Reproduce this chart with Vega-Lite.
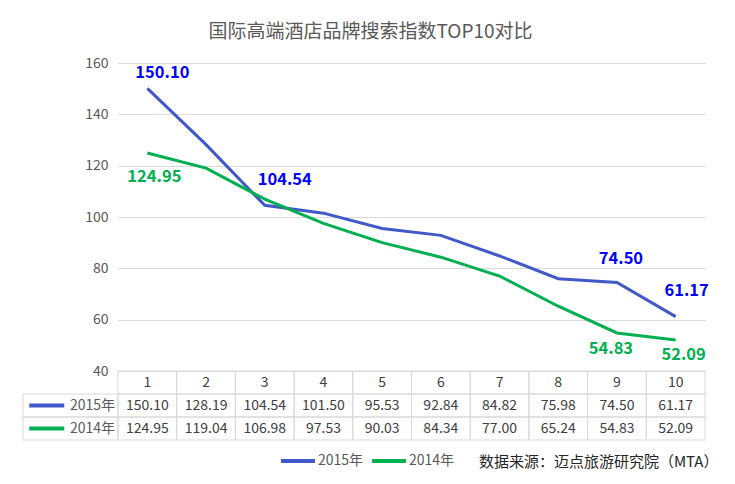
{
  "$schema": "https://vega.github.io/schema/vega-lite/v6.json",
  "background": "white",
  "padding": {"left": 22, "top": 23, "right": 5, "bottom": 5},
  "title": {
    "text": "国际高端酒店品牌搜索指数TOP10对比",
    "fontSize": 19,
    "fontWeight": "normal",
    "color": "#595959",
    "anchor": "middle",
    "offset": 14
  },
  "config": {
    "view": {"stroke": null},
    "font": "Noto Sans CJK SC",
    "title": {"font": "Noto Sans CJK SC"}
  },
  "datasets": {
    "scores": [
      {"cat": 1, "series": "2015年", "value": 150.10},
      {"cat": 2, "series": "2015年", "value": 128.19},
      {"cat": 3, "series": "2015年", "value": 104.54},
      {"cat": 4, "series": "2015年", "value": 101.50},
      {"cat": 5, "series": "2015年", "value": 95.53},
      {"cat": 6, "series": "2015年", "value": 92.84},
      {"cat": 7, "series": "2015年", "value": 84.82},
      {"cat": 8, "series": "2015年", "value": 75.98},
      {"cat": 9, "series": "2015年", "value": 74.50},
      {"cat": 10, "series": "2015年", "value": 61.17},
      {"cat": 1, "series": "2014年", "value": 124.95},
      {"cat": 2, "series": "2014年", "value": 119.04},
      {"cat": 3, "series": "2014年", "value": 106.98},
      {"cat": 4, "series": "2014年", "value": 97.53},
      {"cat": 5, "series": "2014年", "value": 90.03},
      {"cat": 6, "series": "2014年", "value": 84.34},
      {"cat": 7, "series": "2014年", "value": 77.00},
      {"cat": 8, "series": "2014年", "value": 65.24},
      {"cat": 9, "series": "2014年", "value": 54.83},
      {"cat": 10, "series": "2014年", "value": 52.09}
    ]
  },
  "columns": 2,
  "spacing": 0,
  "bounds": "flush",
  "concat": [
    {
      "width": 95,
      "height": 308,
      "data": {"values": [{}]},
      "mark": {"type": "point", "opacity": 0},
      "encoding": {}
    },
    {
      "width": 587,
      "height": 308,
      "data": {"name": "scores"},
      "encoding": {
        "x": {"field": "cat", "type": "ordinal", "axis": null, "scale": {"type": "point", "padding": 0.5}},
        "y": {
          "field": "value",
          "type": "quantitative",
          "scale": {"domain": [40, 160], "nice": false, "zero": false},
          "axis": {
            "values": [40, 60, 80, 100, 120, 140, 160],
            "title": null,
            "domain": false,
            "ticks": false,
            "grid": true,
            "gridColor": "#d9d9d9",
            "labelColor": "#595959",
            "labelFontSize": 14,
            "labelPadding": 10
          }
        }
      },
      "layer": [
        {
          "mark": {"type": "line", "strokeWidth": 3},
          "encoding": {
            "color": {
              "field": "series",
              "type": "nominal",
              "sort": ["2015年", "2014年"],
              "scale": {"domain": ["2015年", "2014年"], "range": ["#4159c8", "#00b050"]},
              "legend": {
                "orient": "none",
                "legendX": 256,
                "legendY": 379,
                "direction": "horizontal",
                "title": null,
                "symbolType": "stroke",
                "symbolStrokeWidth": 4,
                "symbolSize": 1150,
                "symbolOpacity": 1,
                "labelFontSize": 14,
                "labelColor": "#595959",
                "labelOffset": 1,
                "columnPadding": 0
              }
            }
          }
        },
        {
          "transform": [{"filter": "datum.series == '2015年' && datum.cat == 1"}],
          "mark": {"type": "text", "dx": 15, "dy": -15, "fontSize": 16.5, "fontWeight": "bold", "color": "#0000ff"},
          "encoding": {"text": {"field": "value", "format": ".2f"}}
        },
        {
          "transform": [{"filter": "datum.series == '2015年' && datum.cat == 3"}],
          "mark": {"type": "text", "dx": 20, "dy": -25, "fontSize": 16.5, "fontWeight": "bold", "color": "#0000ff"},
          "encoding": {"text": {"field": "value", "format": ".2f"}}
        },
        {
          "transform": [{"filter": "datum.series == '2015年' && datum.cat == 9"}],
          "mark": {"type": "text", "dx": 4, "dy": -23, "fontSize": 16.5, "fontWeight": "bold", "color": "#0000ff"},
          "encoding": {"text": {"field": "value", "format": ".2f"}}
        },
        {
          "transform": [{"filter": "datum.series == '2015年' && datum.cat == 10"}],
          "mark": {"type": "text", "dx": 11, "dy": -26, "fontSize": 16.5, "fontWeight": "bold", "color": "#0000ff"},
          "encoding": {"text": {"field": "value", "format": ".2f"}}
        },
        {
          "transform": [{"filter": "datum.series == '2014年' && datum.cat == 1"}],
          "mark": {"type": "text", "dx": 7, "dy": 24, "fontSize": 16.5, "fontWeight": "bold", "color": "#00b050"},
          "encoding": {"text": {"field": "value", "format": ".2f"}}
        },
        {
          "transform": [{"filter": "datum.series == '2014年' && datum.cat == 9"}],
          "mark": {"type": "text", "dx": -6, "dy": 16, "fontSize": 16.5, "fontWeight": "bold", "color": "#00b050"},
          "encoding": {"text": {"field": "value", "format": ".2f"}}
        },
        {
          "transform": [{"filter": "datum.series == '2014年' && datum.cat == 10"}],
          "mark": {"type": "text", "dx": 8, "dy": 15, "fontSize": 16.5, "fontWeight": "bold", "color": "#00b050"},
          "encoding": {"text": {"field": "value", "format": ".2f"}}
        }
      ]
    },
    {
      "width": 95,
      "height": 69,
      "data": {"name": "scores"},
      "transform": [{"filter": "datum.cat == 1"}],
      "encoding": {
        "y": {
          "field": "series",
          "type": "nominal",
          "scale": {"type": "band", "domain": ["hdr", "2015年", "2014年"], "paddingInner": 0, "paddingOuter": 0},
          "axis": null
        }
      },
      "layer": [
        {
          "mark": {"type": "rect", "filled": false, "stroke": "#d9d9d9", "strokeWidth": 1}
        },
        {
          "mark": {"type": "tick", "orient": "horizontal", "size": 35, "thickness": 4, "opacity": 1},
          "encoding": {
            "x": {
              "datum": "swatch",
              "type": "nominal",
              "scale": {"type": "band", "domain": ["swatch", "text"], "paddingInner": 0, "paddingOuter": 0},
              "axis": null
            },
            "color": {
              "field": "series",
              "type": "nominal",
              "legend": {
                "orient": "none",
                "legendX": 256,
                "legendY": 379,
                "direction": "horizontal",
                "title": null,
                "symbolType": "stroke",
                "symbolStrokeWidth": 4,
                "symbolSize": 1150,
                "symbolOpacity": 1,
                "labelFontSize": 14,
                "labelColor": "#595959",
                "labelOffset": 1,
                "columnPadding": 0
              }
            }
          }
        },
        {
          "mark": {"type": "text", "align": "right", "dx": -3, "fontSize": 14, "color": "#595959"},
          "encoding": {
            "x": {"datum": "text", "type": "nominal", "bandPosition": 1},
            "text": {"field": "series"}
          }
        }
      ]
    },
    {
      "width": 587,
      "height": 69,
      "data": {"name": "scores"},
      "title": {
        "text": "数据来源：迈点旅游研究院（MTA）",
        "orient": "bottom",
        "anchor": "end",
        "fontSize": 15,
        "fontWeight": "normal",
        "color": "#262626",
        "offset": 14,
        "dx": 13
      },
      "encoding": {
        "x": {
          "field": "cat",
          "type": "ordinal",
          "scale": {"type": "band", "paddingInner": 0, "paddingOuter": 0},
          "axis": null
        }
      },
      "layer": [
        {
          "mark": {"type": "rect", "filled": false, "stroke": "#d9d9d9", "strokeWidth": 1},
          "encoding": {
            "y": {
              "field": "series",
              "type": "nominal",
              "scale": {"type": "band", "domain": ["hdr", "2015年", "2014年"], "paddingInner": 0, "paddingOuter": 0},
              "axis": null
            }
          }
        },
        {
          "transform": [{"filter": "datum.series == '2015年'"}],
          "mark": {"type": "rect", "filled": false, "stroke": "#d9d9d9", "strokeWidth": 1},
          "encoding": {"y": {"datum": "hdr", "type": "nominal"}}
        },
        {
          "mark": {"type": "text", "fontSize": 14, "color": "#404040"},
          "encoding": {
            "y": {"field": "series", "type": "nominal"},
            "text": {"field": "value", "format": ".2f"}
          }
        },
        {
          "transform": [{"filter": "datum.series == '2015年'"}],
          "mark": {"type": "text", "fontSize": 14, "color": "#404040"},
          "encoding": {
            "y": {"datum": "hdr", "type": "nominal"},
            "text": {"field": "cat"}
          }
        }
      ]
    }
  ]
}
